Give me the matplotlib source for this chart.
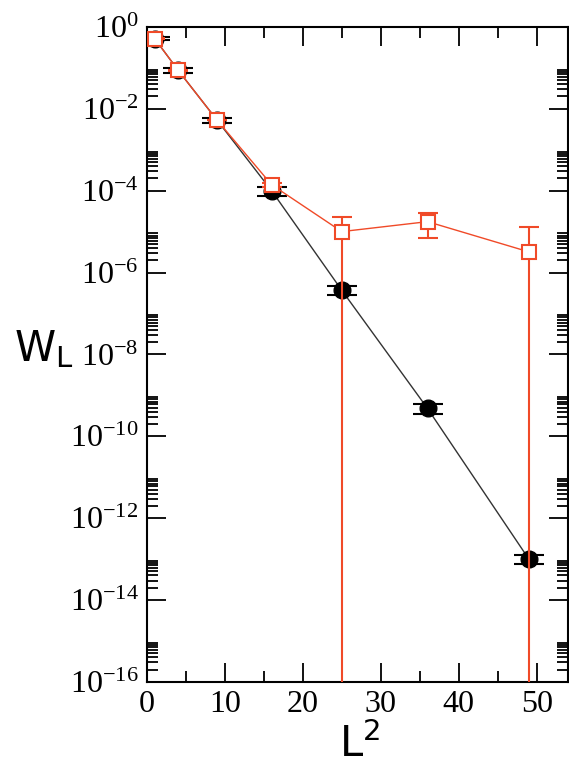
import numpy as np
import matplotlib
matplotlib.use("Agg")
import matplotlib.pyplot as plt
from matplotlib.ticker import FixedLocator, MultipleLocator

# data
L2 = [1, 4, 9, 16, 25, 36, 49]
w_black = [0.52, 0.088, 5.3e-3, 1.0e-4, 3.7e-7, 4.8e-10, 1.0e-13]
w_black_err = [0.05, 0.012, 8e-4, 2.5e-5, 9e-8, 1.2e-10, 2.5e-14]
w_red = [0.52, 0.088, 5.3e-3, 1.4e-4, 1.0e-5, 1.75e-5, 3.2e-6]
w_red_err = [0.01, 0.002, 1e-4, 1.5e-5, 1.25e-5, 1.05e-5, 9.7e-6]

RED = "#f04a28"
SERIF = "Liberation Serif"

plt.rcParams["font.family"] = [SERIF, "DejaVu Serif"]
plt.rcParams["mathtext.default"] = "regular"

fig = plt.figure(figsize=(5.69, 7.68), dpi=100)
ax = fig.add_axes([0.258, 0.112, 0.74, 0.853])

ax.errorbar(L2, w_black, yerr=w_black_err, color="#333333", lw=1,
            marker="o", ms=12, mfc="black", mec="black",
            ecolor="black", elinewidth=1.5, capsize=11, capthick=1.5, zorder=3)
ax.errorbar(L2, w_red, yerr=w_red_err, color=RED, lw=1,
            marker="s", ms=9.5, mfc="white", mec=RED, mew=1.5,
            ecolor=RED, elinewidth=1.5, capsize=7, capthick=1.5, zorder=4)

ax.set_yscale("log", nonpositive="clip")
ax.set_xlim(0, 54)
ax.set_ylim(1e-16, 1)

# major ticks every two decades, minor ticks xmgrace style
majors = [10.0 ** e for e in range(-16, 1, 2)]
ax.yaxis.set_major_locator(FixedLocator(majors))
minors = [k * 10.0 ** e for e in range(-16, 0, 2) for k in range(2, 10)]
ax.yaxis.set_minor_locator(FixedLocator(minors))
ax.set_yticklabels([r"$10^{%d}$" % e for e in range(-16, 1, 2)])

ax.xaxis.set_major_locator(MultipleLocator(10))
ax.xaxis.set_minor_locator(MultipleLocator(5))

ax.tick_params(which="both", direction="in", top=True, right=True, width=1.3,
               labelsize=23)
ax.tick_params(which="major", length=14)
ax.tick_params(which="minor", length=8)
ax.tick_params(axis="y", pad=6)
ax.tick_params(axis="x", pad=6)
for s in ax.spines.values():
    s.set_linewidth(1.5)

fig.text(0.025, 0.545, r"W$_{L}$", fontsize=30, ha="left", va="center",
         family="DejaVu Sans")
fig.text(0.632, 0.014, r"L$^{2}$", fontsize=30, ha="center", va="baseline",
         family="DejaVu Sans")

fig.savefig("out.png", dpi=100)
